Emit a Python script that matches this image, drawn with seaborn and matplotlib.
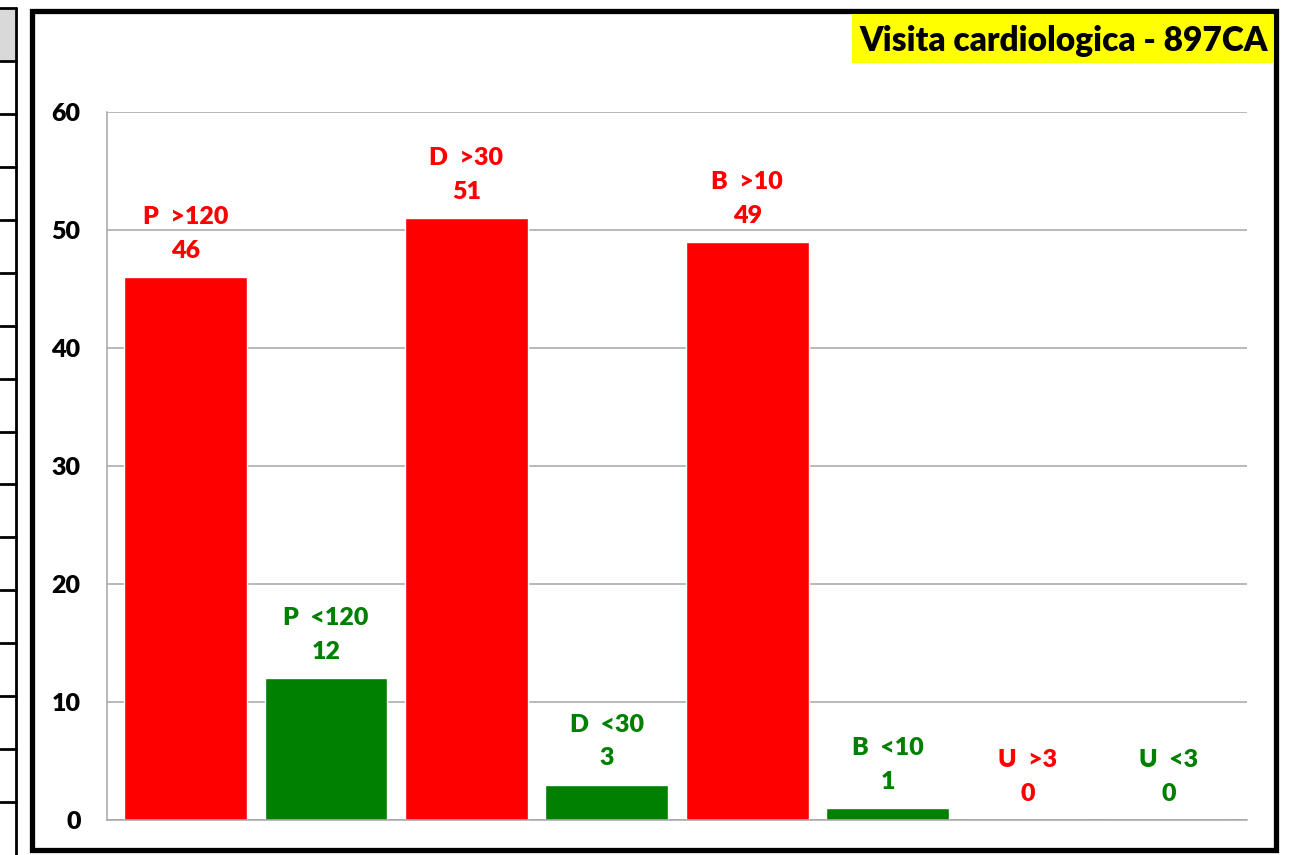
import matplotlib
matplotlib.use("Agg")
import matplotlib.pyplot as plt
from matplotlib.patches import Rectangle
from matplotlib.lines import Line2D
import seaborn as sns
import pandas as pd

# chart data
categories = ["P  >120", "P  <120", "D  >30", "D  <30", "B  >10", "B  <10", "U  >3", "U  <3"]
values = [46, 12, 51, 3, 49, 1, 0, 0]
bar_colors = ["#ff0000", "#008000", "#ff0000", "#008000", "#ff0000", "#008000", "#ff0000", "#008000"]
title = "Visita cardiologica - 897CA"

sns.set_style("white")
plt.rcParams["font.family"] = ["Lato", "DejaVu Sans"]
plt.rcParams["font.weight"] = "bold"

df = pd.DataFrame({"cat": categories, "val": values})

fig = plt.figure(figsize=(12.95, 8.55), dpi=100)
W, H = 1295, 855
ax = fig.add_axes([107 / W, 1 - 820 / H, (1247 - 107) / W, (820 - 112) / H])

sns.barplot(data=df, x="cat", y="val", hue="cat", palette=bar_colors,
            width=0.875, legend=False, ax=ax, saturation=1)

ax.set_xlim(-0.56, len(categories) - 0.44)
ax.set_ylim(0, 60)
ax.set_yticks(range(0, 61, 10))
ax.set_xticks([])
ax.set_xlabel("")
ax.set_ylabel("")
ax.yaxis.grid(True, color="#a6a6a6", lw=1.1)
ax.set_axisbelow(True)
for s in ["top", "right"]:
    ax.spines[s].set_visible(False)
for s in ["left", "bottom"]:
    ax.spines[s].set_color("#a6a6a6")
    ax.spines[s].set_linewidth(1.1)
ax.tick_params(axis="y", direction="out", length=7, width=1.1, color="#a6a6a6",
               pad=12, labelsize=18, labelcolor="black")
for t in ax.get_yticklabels():
    t.set_fontweight("heavy")

# value labels above each bar
for cont, cat, val, col in zip(ax.containers, categories, values, bar_colors):
    ax.bar_label(cont, labels=[f"{cat}\n{val}"], padding=11,
                 fontsize=18, fontweight="heavy", color=col, linespacing=1.65)

# chart frame
fig.patches.append(Rectangle((32 / W, 1 - 850 / H), (1275.5 - 32) / W, (850 - 11.5) / H,
                             transform=fig.transFigure, fill=False, ec="black", lw=3.8))

# title box
fig.patches.append(Rectangle((852 / W, 1 - 63 / H), (1273 - 852) / W, (63 - 14) / H,
                             transform=fig.transFigure, fc="#ffff00", ec="none"))
fig.text(1268 / W, 1 - 51 / H, title, ha="right", va="baseline",
         fontsize=24, fontweight="heavy", color="black")

# spreadsheet cells peeking out at the left
fig.patches.append(Rectangle((0, 1 - 61 / H), 15 / W, (61 - 8) / H,
                             transform=fig.transFigure, fc="#d9d9d9", ec="none"))
fig.lines.append(Line2D([16 / W, 16 / W], [0, 1 - 8 / H], transform=fig.transFigure,
                        color="black", lw=2))
fig.lines.append(Line2D([0, 16 / W], [1 - 8 / H, 1 - 8 / H], transform=fig.transFigure,
                        color="black", lw=2))
for k in range(15):
    yy = 1 - (61 + 52.93 * k) / H
    fig.lines.append(Line2D([0, 16 / W], [yy, yy], transform=fig.transFigure,
                            color="black", lw=2))

fig.savefig("out.png", dpi=100)
